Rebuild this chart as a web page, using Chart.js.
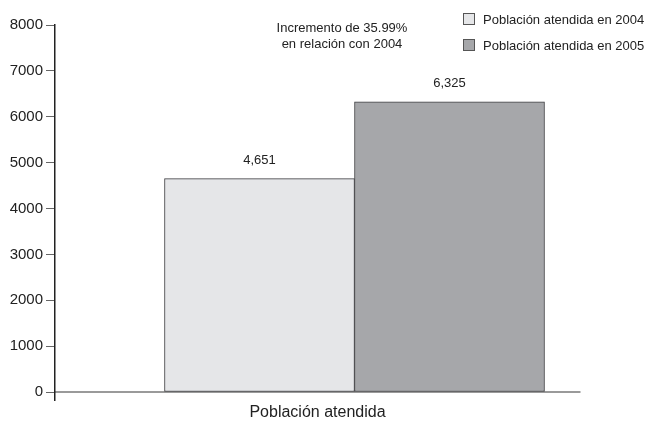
<!DOCTYPE html>
<html>
<head>
<meta charset="utf-8">
<script src="https://cdn.jsdelivr.net/npm/chart.js@4/dist/chart.umd.min.js"></script>
<style>
  body { margin: 0; background: #fff; }
  #wrap { position: relative; width: 649px; height: 421px; font-family: "Liberation Sans", Arial, sans-serif; color: #222; }
  #note { position: absolute; left: 242px; top: 20px; width: 200px; text-align: center; font-size: 13px; line-height: 15.5px; }
  #legend { position: absolute; left: 463px; top: 13px; font-size: 13px; }
  #legend .item { display: flex; align-items: center; height: 12px; margin-bottom: 14px; white-space: nowrap; }
  #legend .box { width: 12px; height: 12px; box-sizing: border-box; border: 1px solid #555; margin-right: 8px; }
</style>
</head>
<body>
<div id="wrap">
  <canvas id="chart" width="649" height="421"></canvas>
  <div id="note">Incremento de 35.99%<br>en relación con 2004</div>
  <div id="legend"></div>
</div>
<script>
// chart data
var categories = ['Población atendida'];
var seriesLabels = ['Población atendida en 2004', 'Población atendida en 2005'];
var seriesValues = [4651, 6325];
var yTicks = [0, 1000, 2000, 3000, 4000, 5000, 6000, 7000, 8000];

// styles
var seriesColors = ['#e5e6e8', '#a6a7aa'];
var FONT = '"Liberation Sans", Arial, sans-serif';

Chart.defaults.font.family = FONT;
Chart.defaults.color = '#222';

// value above each bar
var valueLabels = {
  id: 'valueLabels',
  afterDatasetsDraw: function(chart) {
    var ctx = chart.ctx;
    ctx.save();
    ctx.font = '13px ' + FONT;
    ctx.fillStyle = '#222';
    ctx.textAlign = 'center';
    ctx.textBaseline = 'alphabetic';
    chart.data.datasets.forEach(function(ds, i) {
      chart.getDatasetMeta(i).data.forEach(function(bar, j) {
        ctx.fillText(ds.data[j].y.toLocaleString('en-US'), bar.x, bar.y - 14.5);
      });
    });
    ctx.restore();
  }
};

var datasets = seriesLabels.map(function(label, i) {
  return {
    label: label,
    data: [{ x: i + 1, y: seriesValues[i] }],
    backgroundColor: seriesColors[i],
    borderColor: '#3f3f42',
    borderWidth: 1,
    borderSkipped: false,
    grouped: false,
    barPercentage: 1,
    categoryPercentage: 1
  };
});

var chart = new Chart(document.getElementById('chart'), {
  type: 'bar',
  data: { datasets: datasets },
  plugins: [valueLabels],
  options: {
    responsive: false,
    animation: false,
    layout: { padding: { top: 25, right: 69, bottom: 0, left: 0 } },
    plugins: {
      legend: { display: false },
      tooltip: { enabled: false }
    },
    scales: {
      x: {
        type: 'linear',
        offset: false,
        min: -0.0763,
        max: 2.6868,
        afterBuildTicks: function(s) { s.ticks = [{ value: s.min }]; },
        afterFit: function(s) { s.height = 29; },
        ticks: { display: false },
        grid: { display: true, offset: false, drawOnChartArea: false, drawTicks: true, tickLength: 9, color: '#222', lineWidth: 1.5 },
        border: { display: true, color: '#9a9a9a', width: 2 },
        title: {
          display: true,
          text: categories[0],
          color: '#222',
          padding: 0,
          font: { size: 16, lineHeight: 1 }
        }
      },
      y: {
        min: 0,
        max: 8000,
        afterBuildTicks: function(s) { s.ticks = yTicks.map(function(v) { return { value: v }; }); },
        afterFit: function(s) { s.width = 55; },
        ticks: {
          color: '#222',
          padding: 3,
          font: { size: 15 },
          callback: function(v) { return String(v); }
        },
        grid: { display: true, drawOnChartArea: false, drawTicks: true, tickLength: 9, color: '#666', lineWidth: 1 },
        border: { display: true, color: '#222', width: 1.5 }
      }
    }
  }
});

// html legend from the chart's own legend items
var legendEl = document.getElementById('legend');
chart.options.plugins.legend.labels.generateLabels(chart).forEach(function(item) {
  var row = document.createElement('div');
  row.className = 'item';
  var box = document.createElement('span');
  box.className = 'box';
  box.style.background = item.fillStyle;
  row.appendChild(box);
  row.appendChild(document.createTextNode(item.text));
  legendEl.appendChild(row);
});
</script>
</body>
</html>
